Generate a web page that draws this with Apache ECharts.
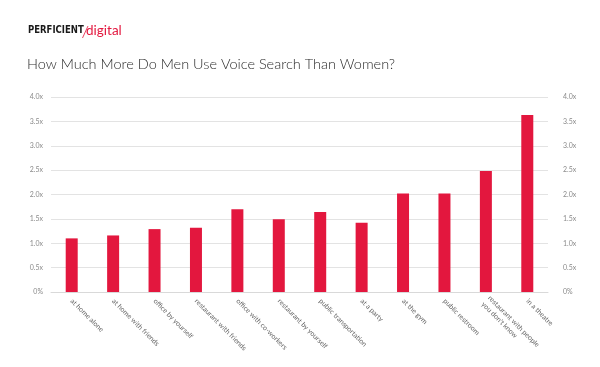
<!DOCTYPE html>
<html><head><meta charset="utf-8">
<script src="https://cdn.jsdelivr.net/npm/echarts@6/dist/echarts.min.js"></script>
<style>html,body{margin:0;padding:0;background:#fff}#c{width:600px;height:367px}</style>
</head><body><div id="c"></div>
<script>
const categories = ["at home alone","at home with friends","office by yourself","restaurant with friends","office with co-workers","restaurant by yourself","public transportation","at a party","at the gym","public restroom","restaurant with people\nyou don't know","in a theatre"];
const values = [1.10,1.16,1.29,1.32,1.70,1.49,1.64,1.42,2.02,2.02,2.48,3.63];
const tickValues = [0,0.5,1,1.5,2,2.5,3,3.5,4];
const tickLabels = ["0%","0.5x","1.0x","1.5x","2.0x","2.5x","3.0x","3.5x","4.0x"];
const titleText = "How Much More Do Men Use Voice Search Than Women?";

const fmt = v => { const i = tickValues.findIndex(t => Math.abs(t - v) < 1e-6); return i >= 0 ? tickLabels[i] : ''; };
const yLabel = {color:'#8a8a8a', fontSize:7, fontFamily:'Lato'};
const chart = echarts.init(document.getElementById('c'), null, {renderer:'canvas'});
chart.setOption({
  animation:false,
  backgroundColor:'#fff',
  graphic:[
    {type:'text', x:28, y:25, scaleX:0.86, style:{text:'PERFICIENT', fontFamily:'DejaVu Sans Condensed', fontWeight:'bold', fontSize:11, fill:'#1a1a1a'}},
    {type:'line', shape:{x1:82.5, y1:38, x2:88, y2:26}, style:{stroke:'#e3173e', lineWidth:0.8}},
    {type:'text', x:86, y:24, style:{text:'digital', fontFamily:'Lato', fontSize:13.5, fill:'#e3173e'}},
    {type:'text', left:27, top:57, style:{text:titleText, fontFamily:'Lato', fontWeight:300, fontSize:14.5, fill:'#2a2a2a'}}
  ],
  grid:{left:51, right:52, top:97, bottom:75, containLabel:false},
  xAxis:{
    type:'category', data:categories,
    axisLine:{lineStyle:{color:'#d9d9d9'}},
    axisTick:{show:false},
    axisLabel:{interval:0, rotate:-45, color:'#666', fontSize:7, fontFamily:'Lato', margin:8, lineHeight:9}
  },
  yAxis:[
    {type:'value', min:0, max:4, interval:0.5, position:'left',
     splitLine:{lineStyle:{color:'#e3e3e3'}},
     axisLine:{show:false}, axisTick:{show:false},
     axisLabel:{...yLabel, margin:8, formatter:fmt}},
    {type:'value', min:0, max:4, interval:0.5, position:'right',
     splitLine:{show:false}, axisLine:{show:false}, axisTick:{show:false},
     axisLabel:{...yLabel, margin:15, formatter:fmt}}
  ],
  series:[{type:'bar', data:values, barWidth:12, itemStyle:{color:'#e3173e'}}]
});
</script></body></html>
